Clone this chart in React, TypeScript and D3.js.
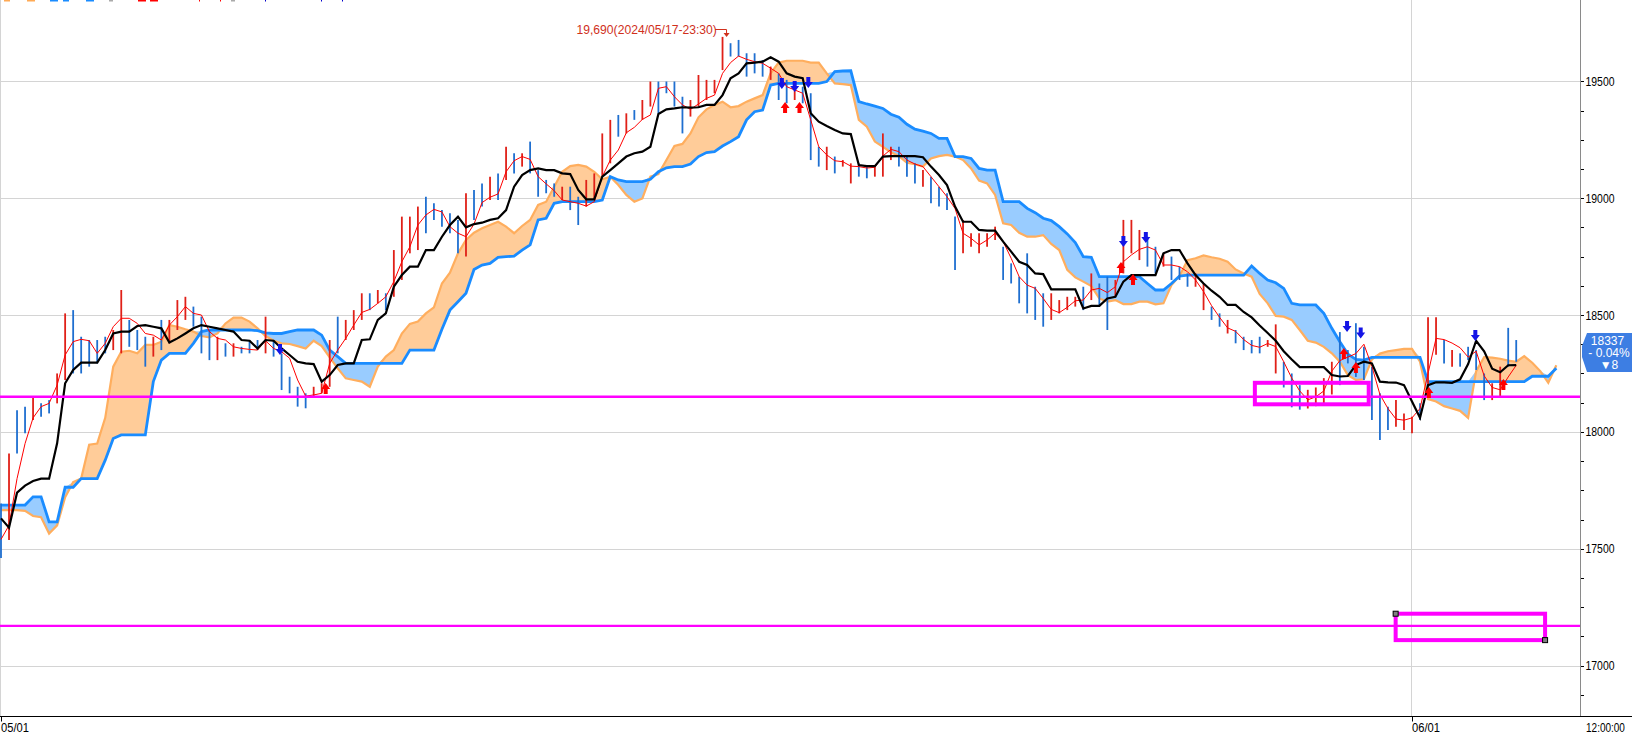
import React from "react";
import * as d3 from "d3";

const W = 1632;
const H = 736;

// x index: one sample per step; index 0 = 05/01, index 176 = 06/01
const dateTicks = [
  { label: "05/01", idx: 0 },
  { label: "06/01", idx: 176 },
];
const rightTimeLabel = "12:00:00";
const priceLabels = [17000, 17500, 18000, 18500, 19000, 19500];

const tenkan = [
  17540, 17600, 17800, 17950, 18060, 18108, 18122, 18200, 18329, 18386,
  18396, 18390, 18336, 18379, 18450, 18486, 18486, 18464, 18421, 18414,
  18393, 18457, 18493, 18536, 18507, 18500, 18429, 18400, 18393, 18364,
  18357, 18353, 18350, 18390, 18357, 18343, 18315, 18222, 18153, 18158,
  18165, 18293, 18350, 18400, 18457, 18511, 18524, 18550, 18578, 18643,
  18728, 18792, 18885, 18928, 18952, 18941, 18878, 18850, 18835, 18889,
  18981, 19004, 19018, 19113, 19160, 19178, 19166, 19092, 19061, 19032,
  18992, 18985, 18978, 18966, 18985, 19092, 19163, 19206, 19280, 19303,
  19337, 19356, 19470, 19477, 19434, 19399, 19380, 19403, 19427, 19441,
  19534, 19580, 19608, 19594, 19584, 19577, 19556, 19534, 19477, 19463,
  19449, 19335, 19220, 19185, 19160, 19156, 19137, 19135, 19129, 19132,
  19180, 19209, 19199, 19163, 19146, 19135, 19092, 19049, 19006, 18956,
  18850, 18828, 18800, 18821, 18850, 18814, 18743, 18664, 18628, 18614,
  18571, 18524, 18510, 18533, 18561, 18564, 18607, 18614, 18596, 18621,
  18728, 18757, 18781, 18792, 18778, 18714, 18714, 18707, 18685, 18650,
  18600, 18540, 18490, 18445, 18430, 18395, 18370, 18362, 18378, 18365,
  18300, 18230, 18175, 18137, 18150, 18175, 18260, 18305, 18320, 18335,
  18375, 18280, 18160, 18100, 18055, 18050, 18060, 18100, 18250, 18400,
  18395, 18380, 18360, 18320, 18345, 18240, 18190, 18180, 18235, 18285,
];

const kijun = [
  17630, 17590, 17740, 17770, 17790, 17800, 17800, 17951, 18208, 18265,
  18296, 18296, 18296, 18350, 18421, 18429, 18429, 18453, 18457, 18450,
  18443, 18382, 18400, 18421, 18443, 18457, 18450, 18443, 18436, 18429,
  18393, 18390, 18357, 18393, 18390, 18357, 18329, 18300, 18293, 18290,
  18215, 18243, 18286, 18293, 18293, 18393, 18396, 18479, 18507, 18621,
  18671, 18707, 18707, 18778, 18778, 18835, 18885, 18921, 18875, 18889,
  18895, 18907, 18914, 18949, 19049, 19099, 19120, 19127, 19120, 19120,
  19106, 19103, 19035, 18995, 18995, 19092, 19120, 19149, 19178, 19192,
  19199, 19220, 19360, 19380, 19384, 19389, 19387, 19389, 19399, 19399,
  19441, 19513, 19534, 19577, 19580, 19584, 19603, 19584, 19534, 19520,
  19513, 19363, 19327, 19309, 19292, 19277, 19274, 19142, 19137, 19137,
  19178, 19180, 19180, 19180, 19180, 19175, 19135, 19099, 19056, 18964,
  18899, 18899, 18864, 18861, 18861, 18814, 18771, 18728, 18714, 18678,
  18675, 18610, 18610, 18610, 18610, 18528, 18539, 18539, 18571, 18578,
  18643, 18671, 18671, 18671, 18671, 18764, 18778, 18778, 18721, 18671,
  18635, 18604, 18578, 18543, 18543, 18513, 18490, 18455, 18423, 18390,
  18345, 18310, 18277, 18277, 18277, 18277, 18243, 18237, 18239, 18286,
  18300, 18293, 18215, 18212, 18211, 18200, 18130, 18060, 18200, 18212,
  18212, 18210, 18225, 18290, 18390, 18345, 18270, 18255, 18285, 18286,
];

const spanA = [
  17665, 17665, 17665, 17662, 17640, 17635, 17565, 17600, 17720, 17785,
  17800, 17945, 17950, 18060, 18279, 18343, 18347, 18336, 18372, 18372,
  18386, 18457, 18450, 18439, 18429, 18410, 18404, 18421, 18464, 18489,
  18489, 18472, 18443, 18410, 18390, 18379, 18376, 18367, 18357, 18390,
  18367, 18319, 18272, 18229, 18222, 18215, 18193, 18279, 18322, 18350,
  18421, 18462, 18472, 18507, 18533, 18635, 18681, 18764, 18821, 18852,
  18871, 18885, 18899, 18878, 18850, 18881, 18907, 18971, 18985, 19049,
  19113, 19137, 19142, 19135, 19113, 19081, 19092, 19056, 19014, 18985,
  18999, 19092, 19103, 19163, 19223, 19232, 19277, 19346, 19380, 19399,
  19413, 19389, 19394, 19413, 19427, 19441, 19534, 19580, 19588, 19588,
  19588, 19580, 19580, 19534, 19491, 19488, 19484, 19335, 19306, 19242,
  19220, 19196, 19180, 19152, 19145, 19135, 19170, 19180, 19185, 19178,
  19163, 19127, 19075, 19063, 19014, 18892, 18885, 18852, 18835, 18835,
  18842, 18804, 18778, 18693, 18661, 18643, 18624, 18571, 18557, 18564,
  18547, 18547, 18557, 18557, 18546, 18550, 18628, 18667, 18735, 18743,
  18755, 18747, 18741, 18728, 18695, 18678, 18664, 18590, 18550, 18496,
  18493, 18479, 18436, 18390, 18382, 18364, 18336, 18300, 18243, 18222,
  18225, 18310, 18335, 18345, 18350, 18355, 18355, 18300, 18140, 18130,
  18110, 18100, 18090, 18060, 18260, 18320, 18318, 18313, 18305, 18300,
  18324, 18296, 18260, 18210, 18285,
];

const spanB = [
  17687, 17687, 17687, 17687, 17722, 17722, 17615, 17615, 17763, 17763,
  17800, 17800, 17800, 17879, 17972, 17987, 17987, 17987, 17987, 18215,
  18307, 18336, 18336, 18336, 18379, 18429, 18436, 18436, 18436, 18436,
  18436, 18436, 18433, 18424, 18421, 18421, 18429, 18436, 18436, 18436,
  18414, 18350, 18322, 18293, 18293, 18293, 18293, 18293, 18293, 18293,
  18293, 18350, 18350, 18350, 18350, 18439, 18521, 18557, 18593, 18695,
  18714, 18721, 18747, 18750, 18752, 18778, 18800, 18907, 18914, 18978,
  18985, 18985, 18985, 18985, 18985, 18992, 19092, 19078, 19071, 19071,
  19071, 19081, 19113, 19130, 19135, 19135, 19146, 19178, 19195, 19199,
  19223, 19242, 19263, 19335, 19370, 19377, 19484, 19491, 19491, 19491,
  19491, 19491, 19491, 19499, 19541, 19544, 19545, 19413, 19403, 19394,
  19384, 19359, 19346, 19316, 19295, 19287, 19277, 19256, 19256, 19178,
  19178, 19170, 19127, 19120, 19120, 18985, 18985, 18985, 18956, 18938,
  18914, 18904, 18878, 18847, 18810, 18750, 18747, 18664, 18664, 18664,
  18664, 18664, 18664, 18635, 18607, 18607, 18635, 18667, 18671, 18671,
  18671, 18671, 18671, 18671, 18671, 18671, 18710, 18678, 18650, 18638,
  18614, 18550, 18543, 18543, 18543, 18507, 18443, 18386, 18333, 18310,
  18307, 18319, 18319, 18319, 18319, 18319, 18319, 18319, 18215, 18215,
  18215, 18215, 18215, 18215, 18215, 18215, 18215, 18215, 18215, 18215,
  18215, 18238, 18238, 18238, 18272,
];

const barHigh = [
  17694, 17908, 18093, 18108, 18150, 18122, 18136, 18250, 18507, 18521,
  18407, 18393, 18393, 18407, 18436, 18607, 18479, 18436, 18407, 18407,
  18479, 18479, 18564, 18578, 18536, 18493, 18436, 18407, 18379, 18379,
  18364, 18393, 18393, 18493, 18393, 18336, 18236, 18193, 18165, 18193,
  18208, 18393, 18493, 18479, 18521, 18593, 18593, 18607, 18593, 18778,
  18921, 18921, 18964, 19006, 18978, 18949, 18935, 18907, 19021, 19035,
  19063, 19092, 19106, 19220, 19192, 19192, 19242, 19120, 19078, 19063,
  19049, 19049, 19006, 19078, 19106, 19277, 19335, 19356, 19363, 19377,
  19420, 19499, 19499, 19499, 19499, 19434, 19420, 19527, 19506, 19506,
  19690, 19663, 19677, 19620, 19620, 19591, 19563, 19534, 19506, 19477,
  19477, 19449, 19220, 19220, 19178, 19163, 19149, 19149, 19135, 19135,
  19277, 19220, 19220, 19178, 19149, 19120, 19092, 19049, 19021, 18921,
  18907, 18850, 18850, 18850, 18878, 18792, 18721, 18664, 18764, 18621,
  18593, 18593, 18564, 18578, 18578, 18621, 18678, 18635, 18664, 18650,
  18907, 18907, 18864, 18835, 18792, 18764, 18750, 18707, 18678, 18678,
  18635, 18536, 18507, 18479, 18436, 18407, 18393, 18407, 18393, 18460,
  18300, 18250, 18200, 18180, 18190, 18230, 18300, 18427, 18350, 18465,
  18364, 18279, 18165, 18108, 18136, 18079, 18065, 18122, 18490, 18490,
  18393, 18350, 18336, 18364, 18350, 18250, 18208, 18279, 18445, 18393,
];

const barLow = [
  17460, 17537, 17908, 17994, 18051, 18065, 18079, 18122, 18222, 18250,
  18250, 18279, 18293, 18336, 18350, 18336, 18364, 18350, 18279, 18322,
  18350, 18379, 18436, 18479, 18450, 18336, 18307, 18307, 18322, 18322,
  18336, 18336, 18350, 18336, 18322, 18179, 18165, 18108, 18101, 18150,
  18165, 18193, 18336, 18393, 18436, 18479, 18521, 18550, 18521, 18578,
  18650, 18764, 18778, 18850, 18907, 18878, 18850, 18764, 18750, 18907,
  18964, 18992, 18992, 19078, 19106, 19135, 19106, 19006, 19021, 19006,
  18992, 18949, 18885, 18964, 18992, 19092, 19149, 19263, 19277, 19335,
  19335, 19392, 19363, 19449, 19392, 19277, 19349, 19392, 19420, 19449,
  19548, 19606, 19606, 19520, 19534, 19520, 19506, 19420, 19406, 19420,
  19406, 19163, 19135, 19120, 19106, 19135, 19063, 19092, 19085, 19092,
  19092, 19163, 19135, 19092, 19063, 19049, 18978, 18964, 18949, 18693,
  18764, 18792, 18764, 18792, 18821, 18650, 18635, 18550, 18507, 18479,
  18450, 18479, 18507, 18521, 18536, 18521, 18564, 18536, 18436, 18578,
  18678, 18764, 18735, 18707, 18678, 18707, 18650, 18650, 18621, 18621,
  18521, 18479, 18450, 18421, 18379, 18350, 18336, 18336, 18364, 18250,
  18190, 18105, 18095, 18100, 18110, 18120, 18160, 18200, 18293, 18235,
  18222, 18051, 17965, 18008, 18022, 18008, 17994, 18051, 18190, 18330,
  18293, 18279, 18279, 18307, 18265, 18136, 18136, 18150, 18279, 18300,
];

const barUp = [
  1, 0, 1, 1, 0, 1, 1, 0, 0, 1, 1, 1, 1, 1, 0, 0, 1, 1, 1, 0,
  1, 0, 0, 0, 1, 1, 1, 0, 1, 0, 1, 1, 1, 0, 1, 1, 1, 1, 1, 0,
  0, 0, 1, 0, 0, 0, 1, 0, 1, 0, 0, 0, 0, 1, 1, 1, 1, 1, 0, 1,
  1, 0, 1, 0, 1, 0, 1, 1, 1, 1, 0, 1, 1, 0, 0, 0, 0, 1, 0, 1,
  0, 0, 1, 1, 1, 1, 0, 0, 0, 0, 0, 1, 1, 1, 1, 1, 0, 1, 1, 0,
  1, 1, 1, 0, 1, 0, 0, 1, 1, 0, 0, 0, 1, 1, 1, 0, 1, 1, 1, 1,
  0, 0, 0, 0, 0, 1, 1, 1, 1, 1, 1, 0, 0, 0, 0, 1, 0, 1, 1, 0,
  0, 0, 0, 1, 1, 0, 1, 1, 1, 0, 0, 1, 1, 0, 1, 1, 1, 1, 0, 0,
  1, 1, 1, 0, 0, 0, 0, 1, 1, 1, 1, 1, 1, 1, 0, 0, 0, 1, 0, 0,
  1, 0, 1, 1, 1, 1, 0, 0, 1, 1,
];

// signal arrows [index, price]
const sellSignals = [
  [34.8, 18350], [97.4, 19488], [99.0, 19476], [100.7, 19493],
  [140.0, 18812], [142.8, 18830], [167.9, 18449], [169.6, 18421], [183.9, 18410],
];
const buySignals = [
  [40.5, 18188], [97.8, 19390], [99.6, 19390], [139.7, 18705], [141.2, 18654],
  [167.5, 18338], [169.0, 18278], [178.1, 18171], [187.4, 18205],
];

const hLines = [18150, 17170];
const boxes = [
  { i0: 156.4, i1: 170.6, p0: 18210, p1: 18118, handles: false },
  { i0: 173.96, i1: 192.6, p0: 17222, p1: 17109, handles: true },
];

const highNote = "19,690(2024/05/17-23:30)";
const lastPrice = "18337";
const lastChange = "- 0.04%";
const lastDiff = "▼8";

const FONT = "'Liberation Sans', Arial, sans-serif";

export default function App() {
  const xs = d3.scaleLinear().domain([0, 176]).range([1, 1412]);
  const ys = d3.scaleLinear().domain([17000, 19500]).range([665.6, 81.3]);
  const axisX = 1580;
  const axisY = 716.5;

  const idxA = d3.range(spanA.length);
  const areaOrange = d3
    .area<number>()
    .x((i) => xs(i))
    .y0((i) => ys(spanB[i]))
    .y1((i) => ys(Math.max(spanA[i], spanB[i])))(idxA);
  const areaBlue = d3
    .area<number>()
    .x((i) => xs(i))
    .y0((i) => ys(spanA[i]))
    .y1((i) => ys(Math.max(spanA[i], spanB[i])))(idxA);
  const mkLine = (arr: number[]) =>
    d3
      .line<number>()
      .x((_, i) => xs(i))
      .y((d) => ys(d))(arr) || "";

  const minorTicks = d3.range(16875, 19501, 125);
  const hiIdx = d3.maxIndex(barHigh);
  const hx = xs(hiIdx) + 4;

  const downArrow = (cx: number, cy: number) =>
    `M${cx - 2},${cy - 6}h4v5h2.5l-4.5,6l-4.5,-6h2.5z`;
  const upArrow = (cx: number, cy: number) =>
    `M${cx - 2},${cy + 6}h4v-5h2.5l-4.5,-6l-4.5,6h2.5z`;

  const legend = [
    { x: 4, w: 6, c: "#ffaa55" }, { x: 27, w: 8, c: "#ffaa55" },
    { x: 50, w: 8, c: "#1a8cff" }, { x: 63, w: 6, c: "#1a8cff" },
    { x: 86, w: 8, c: "#1a8cff" }, { x: 109, w: 4, c: "#aaaaaa" },
    { x: 138, w: 8, c: "#ff0000" }, { x: 150, w: 8, c: "#ff0000" },
    { x: 199, w: 1, c: "#ff0000" }, { x: 220, w: 1, c: "#ff0000" },
    { x: 231, w: 4, c: "#aaaaaa" }, { x: 265, w: 1, c: "#0000cc" },
    { x: 321, w: 1, c: "#0000cc" }, { x: 342, w: 1, c: "#0000cc" },
  ];

  return (
    <svg
      width={W}
      height={H}
      style={{ position: "absolute", left: 0, top: 0, background: "#fff" }}
      fontFamily={FONT}
    >
      <rect x={0} y={0} width={W} height={H} fill="#fff" />
      {legend.map((l, k) => (
        <rect key={k} x={l.x} y={0} width={l.w} height={1.5} fill={l.c} />
      ))}
      {/* grid */}
      {priceLabels.map((p) => (
        <line key={p} x1={0} x2={axisX} y1={Math.round(ys(p)) + 0.5} y2={Math.round(ys(p)) + 0.5} stroke="#d4d4d4" />
      ))}
      {dateTicks.map((t) => (
        <line key={t.label} x1={Math.round(xs(t.idx)) - 0.5} x2={Math.round(xs(t.idx)) - 0.5} y1={0} y2={axisY} stroke="#d4d4d4" />
      ))}
      {/* cloud */}
      <path d={areaOrange || ""} fill="#ffcc99" />
      <path d={areaBlue || ""} fill="#99ccff" />
      <path d={mkLine(spanA)} fill="none" stroke="#ffae5e" strokeWidth={2.2} />
      <path d={mkLine(spanB)} fill="none" stroke="#1a8cff" strokeWidth={2.8} />
      {/* bars */}
      {barHigh.map((h, i) => (
        <line
          key={i}
          x1={xs(i)}
          x2={xs(i)}
          y1={ys(h)}
          y2={ys(barLow[i])}
          stroke={barUp[i] ? "#1f6fd0" : "#e02018"}
          strokeWidth={1.8}
        />
      ))}
      {/* lines */}
      <path d={mkLine(tenkan)} fill="none" stroke="#ff0000" strokeWidth={1} />
      <path d={mkLine(kijun)} fill="none" stroke="#000" strokeWidth={2.2} />
      {/* horizontal lines */}
      {hLines.map((p) => (
        <line key={p} x1={0} x2={axisX} y1={ys(p)} y2={ys(p)} stroke="#ff00ff" strokeWidth={2.4} />
      ))}
      {boxes.map((b, k) => (
        <g key={k}>
          <rect
            x={xs(b.i0)}
            y={ys(b.p0)}
            width={xs(b.i1) - xs(b.i0)}
            height={ys(b.p1) - ys(b.p0)}
            fill="none"
            stroke="#ff00ff"
            strokeWidth={4}
          />
          {b.handles && (
            <>
              <rect x={xs(b.i0) - 2.5} y={ys(b.p0) - 2.5} width={5} height={5} fill="#808080" stroke="#000" strokeWidth={1} />
              <rect x={xs(b.i1) - 2.5} y={ys(b.p1) - 2.5} width={5} height={5} fill="#808080" stroke="#000" strokeWidth={1} />
            </>
          )}
        </g>
      ))}
      {/* signals */}
      {sellSignals.map(([i, p], k) => (
        <path key={"s" + k} d={downArrow(xs(i), ys(p))} fill="#1414e6" />
      ))}
      {buySignals.map(([i, p], k) => (
        <path key={"b" + k} d={upArrow(xs(i), ys(p))} fill="#ff0000" />
      ))}
      {/* high annotation */}
      <text transform="translate(576.5,34) scale(0.9,1)" fontSize={13.5} fill="#d0301c">
        {highNote}
      </text>
      <path d={`M715,29.5H${hx}V34`} fill="none" stroke="#d0301c" strokeWidth={1} />
      <path d={`M${hx - 3},33L${hx},37L${hx + 3},33Z`} fill="#d0301c" />
      {/* right axis */}
      <line x1={axisX + 0.5} x2={axisX + 0.5} y1={0} y2={axisY} stroke="#8a8a8a" />
      {minorTicks.map((p) => (
        <line key={p} x1={axisX + 1} x2={axisX + 4} y1={Math.round(ys(p)) + 0.5} y2={Math.round(ys(p)) + 0.5} stroke="#000" />
      ))}
      {priceLabels.map((p) => (
        <text key={p} transform={`translate(1585.5,${ys(p) + 4.5}) scale(0.87,1)`} fontSize={12} fill="#000">
          {String(p)}
        </text>
      ))}
      {/* last price label */}
      <path d="M1587,333L1582,346L1582,357L1587,372H1632V333Z" fill="#3d7ee3" />
      <text x={1607.5} y={344.5} fontSize={12} fill="#fff" textAnchor="middle">{lastPrice}</text>
      <text x={1609} y={357} fontSize={12} fill="#fff" textAnchor="middle">{lastChange}</text>
      <text x={1609} y={369} fontSize={12} fill="#fff" textAnchor="middle">{lastDiff}</text>
      {/* bottom axis */}
      <line x1={0} x2={W} y1={axisY} y2={axisY} stroke="#000" />
      {dateTicks.map((t) => (
        <g key={t.label}>
          <line x1={Math.round(xs(t.idx)) + 0.5} x2={Math.round(xs(t.idx)) + 0.5} y1={axisY} y2={axisY + 5} stroke="#000" />
          <text transform={`translate(${xs(t.idx)},731.5) scale(0.86,1)`} fontSize={13} fill="#000">
            {t.label}
          </text>
        </g>
      ))}
      <text transform="translate(1586,731.5) scale(0.77,1)" fontSize={13} fill="#000">
        {rightTimeLabel}
      </text>
    </svg>
  );
}
